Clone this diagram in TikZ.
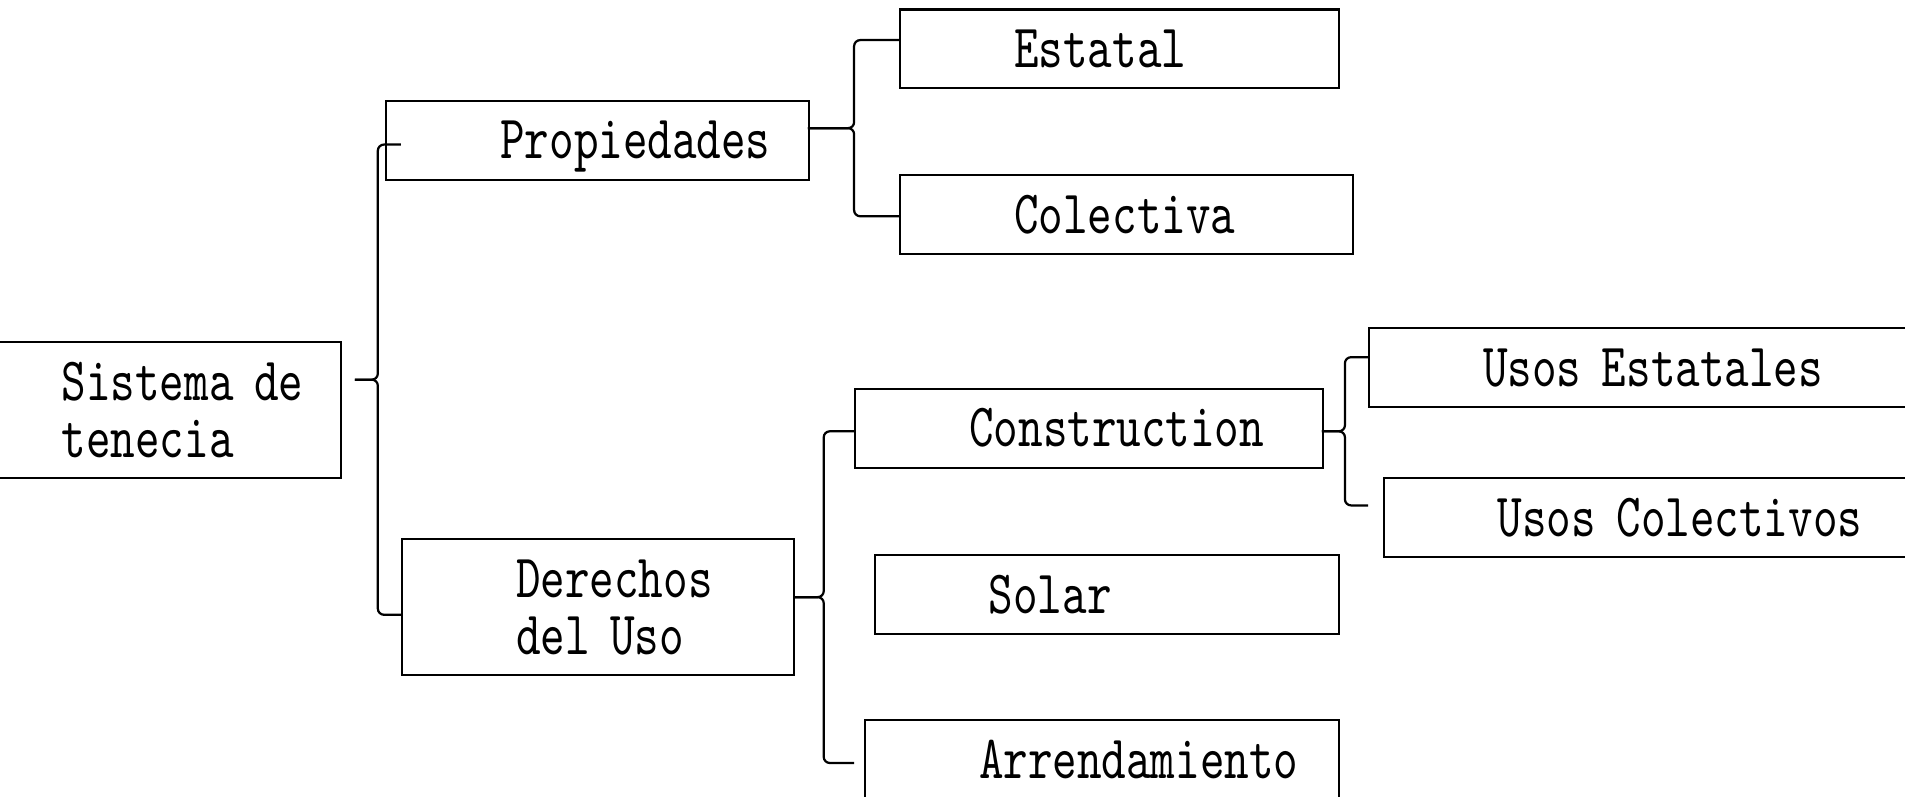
\documentclass[tikz,border=0pt]{standalone}
\usepackage{xcolor}
\usepackage{fontspec}
\newfontfamily\lbl{lmmono10-regular.otf}[FakeStretch=0.76]
\newcommand{\pd}{\hspace*{56.4pt}}

\begin{document}
\begin{tikzpicture}[x=0.6pt,y=-0.6pt,
    cell/.style={draw=black,line width=1pt,anchor=north west,inner sep=0pt,
        align=left,text width=#1,font=\lbl\fontsize{30.4}{28.2}\selectfont},
    oneline/.style={minimum height=39pt,text height=20pt,text depth=1.4pt},
    twoline/.style={minimum height=67.2pt},
    curly/.style={draw=black,line width=1.1pt,rounded corners=3pt}]
                    \useasboundingbox (0,0) rectangle (1568,656);

                    \node[cell=194.4pt,twoline] (sys) at (-44,281) {\pd Sistema de\\\pd tenecia};
                    \node[cell=208.8pt,oneline] (prop) at (317,82) {\pd Propiedades};
                    \node[cell=193.8pt,twoline] (der) at (330,443) {\pd Derechos\\\pd del Uso};
                    \node[cell=216.6pt,oneline] (est) at (740,7) {\pd Estatal};
                    \node[cell=223.8pt,oneline] (col) at (740,143) {\pd Colectiva};
                    \node[cell=231pt,oneline] (con) at (703,319) {\pd Construction};
                    \node[cell=229.2pt,oneline] (sol) at (719,456) {\pd Solar};
                    \node[cell=234pt,oneline] (arr) at (711,592) {\pd Arrendamiento};
                    \node[cell=276pt,oneline] (ue) at (1126,269) {\pd Usos Estatales};
                    \node[cell=270pt,oneline] (uc) at (1138,393) {\pd Usos Colectivos};

                    % brace of Sistema de tenecia
                    \coordinate (sysT) at (292,312.5);
                    \coordinate (sysM) at (311,312.5);
                    \coordinate (propIn) at (330,119);
                    \coordinate (derIn) at (330,506);
                    \draw[curly] (propIn) -| (sysM) -- (sysT);
                    \draw[curly] (derIn) -| (sysM) -- (sysT);

                    % brace of Propiedades
                    \coordinate (propT) at (665,105.5);
                    \coordinate (propM) at (703,105.5);
                    \coordinate (estIn) at (740,33);
                    \coordinate (colIn) at (740,178);
                    \draw[curly] (estIn) -| (propM) -- (propT);
                    \draw[curly] (colIn) -| (propM) -- (propT);

                    % brace of Derechos del Uso
                    \coordinate (derT) at (653,491.5);
                    \coordinate (derM) at (678,491.5);
                    \coordinate (conIn) at (703,355);
                    \coordinate (arrIn) at (703,628);
                    \draw[curly] (conIn) -| (derM) -- (derT);
                    \draw[curly] (arrIn) -| (derM) -- (derT);

                    % brace of Construction
                    \coordinate (conT) at (1088,355);
                    \coordinate (conM) at (1107,355);
                    \coordinate (ueIn) at (1126,294);
                    \coordinate (ucIn) at (1126,416);
                    \draw[curly] (ueIn) -| (conM) -- (conT);
                    \draw[curly] (ucIn) -| (conM) -- (conT);
                \end{tikzpicture}
\end{document}
